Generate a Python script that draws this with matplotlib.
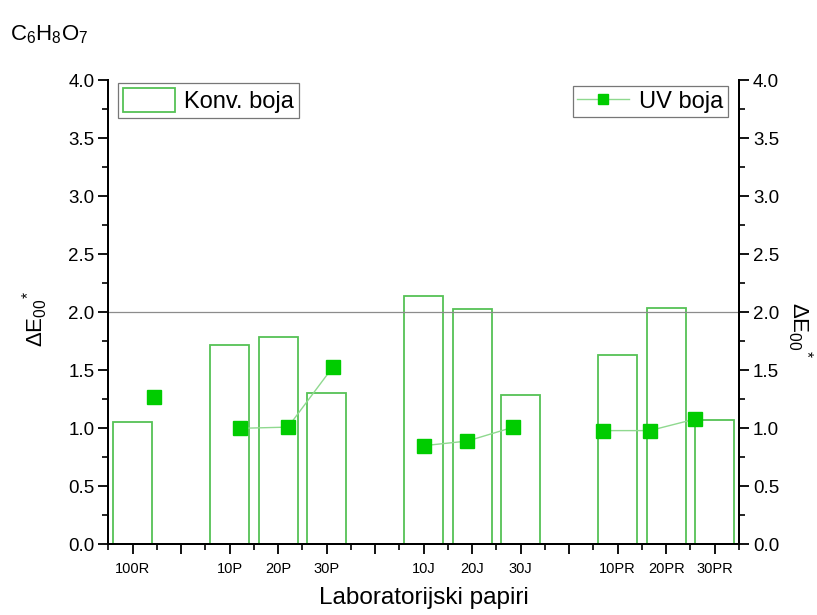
import numpy as np
import matplotlib
matplotlib.use("Agg")
import matplotlib.pyplot as plt
from matplotlib.ticker import MultipleLocator, FormatStrFormatter

plt.rcParams['font.family'] = ['Liberation Sans', 'DejaVu Sans']
plt.rcParams['mathtext.fontset'] = 'custom'
plt.rcParams['mathtext.rm'] = 'Liberation Sans'
plt.rcParams['mathtext.it'] = 'Liberation Sans:italic'

### DATA ###
tick_labels = ["100R", "", "10P", "20P", "30P", "", "10J", "20J", "30J", "", "10PR", "20PR", "30PR"]
bar_pos = [1, 3, 4, 5, 7, 8, 9, 11, 12, 13]
konv = [1.05, 1.72, 1.79, 1.30, 2.14, 2.03, 1.29, 1.63, 2.04, 1.07]
# UV points sit a little off the bar centres; NaN breaks the line between groups
uv_x = [1.44, np.nan, 3.22, 4.20, 5.13, np.nan, 7.0, 7.9, 8.85, np.nan, 10.7, 11.66, 12.6]
uv = [1.27, np.nan, 1.00, 1.01, 1.53, np.nan, 0.85, 0.89, 1.01, np.nan, 0.98, 0.98, 1.08]

bar_col = "#55c255"
uv_col = "#00cc00"
line_col = "#8fd98f"

### PLOTTING ###
fig = plt.figure(figsize=(8.17, 6.15), dpi=100)
ax = fig.add_axes([0.1328, 0.115, 0.7717, 0.7544])
ax2 = ax.twinx()

b = ax.bar(bar_pos, konv, width=0.8, facecolor="none", edgecolor=bar_col, linewidth=1.3, label="Konv. boja")
ax.axhline(2.0, color="#8c8c8c", linewidth=0.9, zorder=1)
p, = ax2.plot(uv_x, uv, "-", color=line_col, linewidth=1.0, marker="s", markersize=9.5,
              markerfacecolor=uv_col, markeredgecolor=uv_col, label="UV boja")

for a in [ax, ax2]:
    a.set_xlim(0.5, 13.5)
    a.set_ylim(0, 4.0)
    a.spines['top'].set_visible(False)
    for s in a.spines.values():
        s.set_linewidth(1.4)
    a.yaxis.set_major_locator(MultipleLocator(0.5))
    a.yaxis.set_minor_locator(MultipleLocator(0.25))
    a.tick_params(axis='y', which='major', labelsize=13.5, length=7, width=1.3, direction='out', pad=3)
    a.tick_params(axis='y', which='minor', length=4.5, width=1.2, direction='out')
    a.yaxis.set_major_formatter(FormatStrFormatter('%.1f'))

ax.set_xticks(range(1, 14))
ax.set_xticklabels(tick_labels)
ax.set_xticks(np.arange(0.5, 14, 1), minor=True)
ax.tick_params(axis='x', which='major', labelsize=10.5, length=7, width=1.3, direction='out', pad=6)
ax.tick_params(axis='x', which='minor', length=4.5, width=1.2, direction='out')

ylab = r"$\Delta\mathrm{E}_{00}{}^{*}$"
ax.set_ylabel(ylab, fontsize=16)
ax.yaxis.set_label_coords(-0.092, 0.485)
ax2.set_ylabel(ylab, fontsize=16, rotation=270, labelpad=22)
ax2.yaxis.set_label_coords(1.12, 0.463)
ax.set_xlabel("Laboratorijski papiri", fontsize=17.5, labelpad=8)

fig.text(0.012, 0.935, r"C$_6$H$_8$O$_7$", fontsize=16)

leg1 = ax.legend(handles=[b], loc="upper left", bbox_to_anchor=(0.015, 0.994), fontsize=17,
                 frameon=True, fancybox=False, borderaxespad=0, handlelength=2.2, handleheight=1.2,
                 borderpad=0.2, handletextpad=0.4)
leg1.get_frame().set_edgecolor("#555555")
leg1.get_frame().set_linewidth(0.9)
leg2 = ax2.legend(handles=[p], loc="upper right", bbox_to_anchor=(0.982, 0.988), fontsize=17,
                  frameon=True, fancybox=False, borderaxespad=0, handlelength=2.2,
                  borderpad=0.2, handletextpad=0.4, markerscale=0.75)
leg2.get_frame().set_edgecolor("#555555")
leg2.get_frame().set_linewidth(0.9)

plt.savefig("out.png", dpi=100)
